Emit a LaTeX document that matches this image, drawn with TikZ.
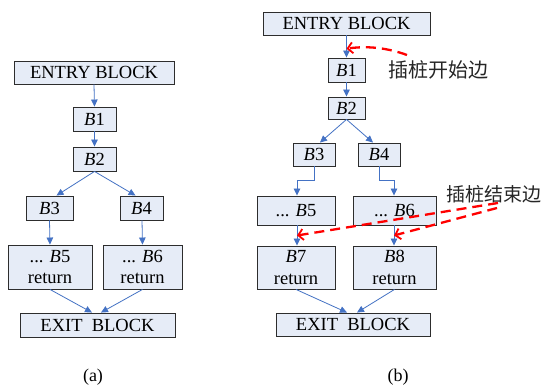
\documentclass[tikz,border=0pt]{standalone}
\usepackage{fontspec}
\setmainfont{Liberation Serif}
\newfontfamily\cjk{Noto Sans CJK SC}
\usetikzlibrary{arrows.meta,calc}
\definecolor{boxfill}{RGB}{230,236,247}
\definecolor{boxline}{RGB}{45,45,45}
\definecolor{flowblue}{RGB}{68,114,196}
\tikzset{
  blk/.style={draw=boxline, fill=boxfill, line width=0.9pt, inner sep=0pt,
    align=center, font=\fontsize{18.5}{21.5}\selectfont},
  flow/.style={draw=flowblue, line width=0.8pt, -{Triangle[length=7pt,width=6.5pt]}},
  probe/.style={draw=red, line width=2.3pt, dash pattern=on 10pt off 6pt,
    -{Straight Barb[length=5pt,width=11pt,line width=1.8pt]}},
  cjklabel/.style={font=\cjk\fontsize{20}{24}\selectfont, inner sep=0pt, text=black!85},
  caplabel/.style={font=\fontsize{18}{21}\selectfont, inner sep=0pt}
}
\begin{document}
\begin{tikzpicture}[x=1pt,y=1pt]
\useasboundingbox[fill=white] (0,0) rectangle (542,387);
% ---------- (a) ----------
\node[blk, minimum width=160pt, minimum height=23pt] (aentry) at (94,314.5) {ENTRY BLOCK};
\node[blk, minimum width=43pt, minimum height=24pt] (aB1) at (94.5,268) {\textit{B}1};
\node[blk, minimum width=43pt, minimum height=24pt] (aB2) at (94.5,228) {\textit{B}2};
\node[blk, minimum width=47pt, minimum height=24pt] (aB3) at (49.5,179) {\textit{B}3};
\node[blk, minimum width=43pt, minimum height=24pt] (aB4) at (141.5,179) {\textit{B}4};
\node[blk, minimum width=84pt, minimum height=44pt] (aB5) at (50,120) {... \textit{B}5\\return};
\node[blk, minimum width=79pt, minimum height=44pt] (aB6) at (142.5,120) {... \textit{B}6\\return};
\node[blk, minimum width=155pt, minimum height=24pt] (aexit) at (97.5,62) {EXIT\ \ BLOCK};
\draw[flow] (aentry.south) -- (aB1.north);
\draw[flow] (aB1.south) -- (aB2.north);
\draw[flow] (aB2.south) -- ([xshift=7pt]aB3.north);
\draw[flow] (aB2.south) -- ([xshift=-6pt]aB4.north);
\draw[flow] (aB3.south) -- (aB5.north);
\draw[flow] ([xshift=0.5pt]aB4.south) -- (aB6.north);
\draw[flow] (aB5.south) -- ([xshift=-5.5pt]aexit.north);
\draw[flow] (aB6.south) -- ([xshift=3.5pt]aexit.north);
\node[caplabel] (capa) at (93,10) {(a)};
% ---------- (b) ----------
\node[blk, minimum width=167pt, minimum height=23pt] (bentry) at (346.5,363.5) {ENTRY BLOCK};
\node[blk, minimum width=37pt, minimum height=24pt] (bB1) at (346.5,317) {\textit{B}1};
\node[blk, minimum width=37pt, minimum height=22pt] (bB2) at (346.5,279) {\textit{B}2};
\node[blk, minimum width=42pt, minimum height=23pt] (bB3) at (314,232.5) {\textit{B}3};
\node[blk, minimum width=42pt, minimum height=23pt] (bB4) at (379,232.5) {\textit{B}4};
\node[blk, minimum width=78pt, minimum height=29pt] (bB5) at (296,176.5) {... \textit{B}5};
\node[blk, minimum width=83pt, minimum height=29pt] (bB6) at (394.5,176.5) {... \textit{B}6};
\node[blk, minimum width=78pt, minimum height=43pt] (bB7) at (296,119.5) {\textit{B}7\\return};
\node[blk, minimum width=83pt, minimum height=43pt] (bB8) at (394.5,119.5) {\textit{B}8\\return};
\node[blk, minimum width=154pt, minimum height=23pt] (bexit) at (353,62.5) {EXIT\ \ BLOCK};
\draw[flow] (bentry.south) -- (bB1.north);
\draw[flow] (bB1.south) -- (bB2.north);
\draw[flow] (bB2.south) -- ([xshift=6pt]bB3.north);
\draw[flow] (bB2.south) -- ([xshift=-6pt]bB4.north);
\draw[flow] (bB3.south) -- ++(0,-14) -| ([xshift=1pt]bB5.north);
\draw[flow] (bB4.south) -- ++(0,-14) -| ([xshift=-0.5pt]bB6.north);
\draw[flow] ([xshift=1pt]bB5.south) -- ([xshift=1pt]bB7.north);
\draw[flow] ([xshift=-0.5pt]bB6.south) -- ([xshift=-0.5pt]bB8.north);
\draw[flow] (bB7.south) -- ([xshift=-6pt]bexit.north);
\draw[flow] (bB8.south) -- ([xshift=4pt]bexit.north);
\node[caplabel] (capb) at (398,10) {(b)};
% ---------- probe edges ----------
\node[cjklabel] (lstart) at (438.5,317.5) {插桩开始边};
\node[cjklabel, anchor=west, font=\cjk\fontsize{19}{23}\selectfont] (lend) at (446,193) {插桩结束边};
\coordinate (rs) at (407,332);
\coordinate (ts) at ($(bentry.south)!0.6!(bB1.north)$);
\draw[probe] (rs) .. controls (385,340) and (365,341) .. (ts);
\coordinate (re1) at (498,184);
\coordinate (re2) at (497,179);
\coordinate (t7) at ($([xshift=1pt]bB5.south)!0.5!([xshift=1pt]bB7.north)$);
\coordinate (t8) at ($([xshift=-0.5pt]bB6.south)!0.5!([xshift=-0.5pt]bB8.north)$);
\draw[probe] (re1) -- (t7);
\draw[probe] (re2) -- (t8);
\end{tikzpicture}
\end{document}
